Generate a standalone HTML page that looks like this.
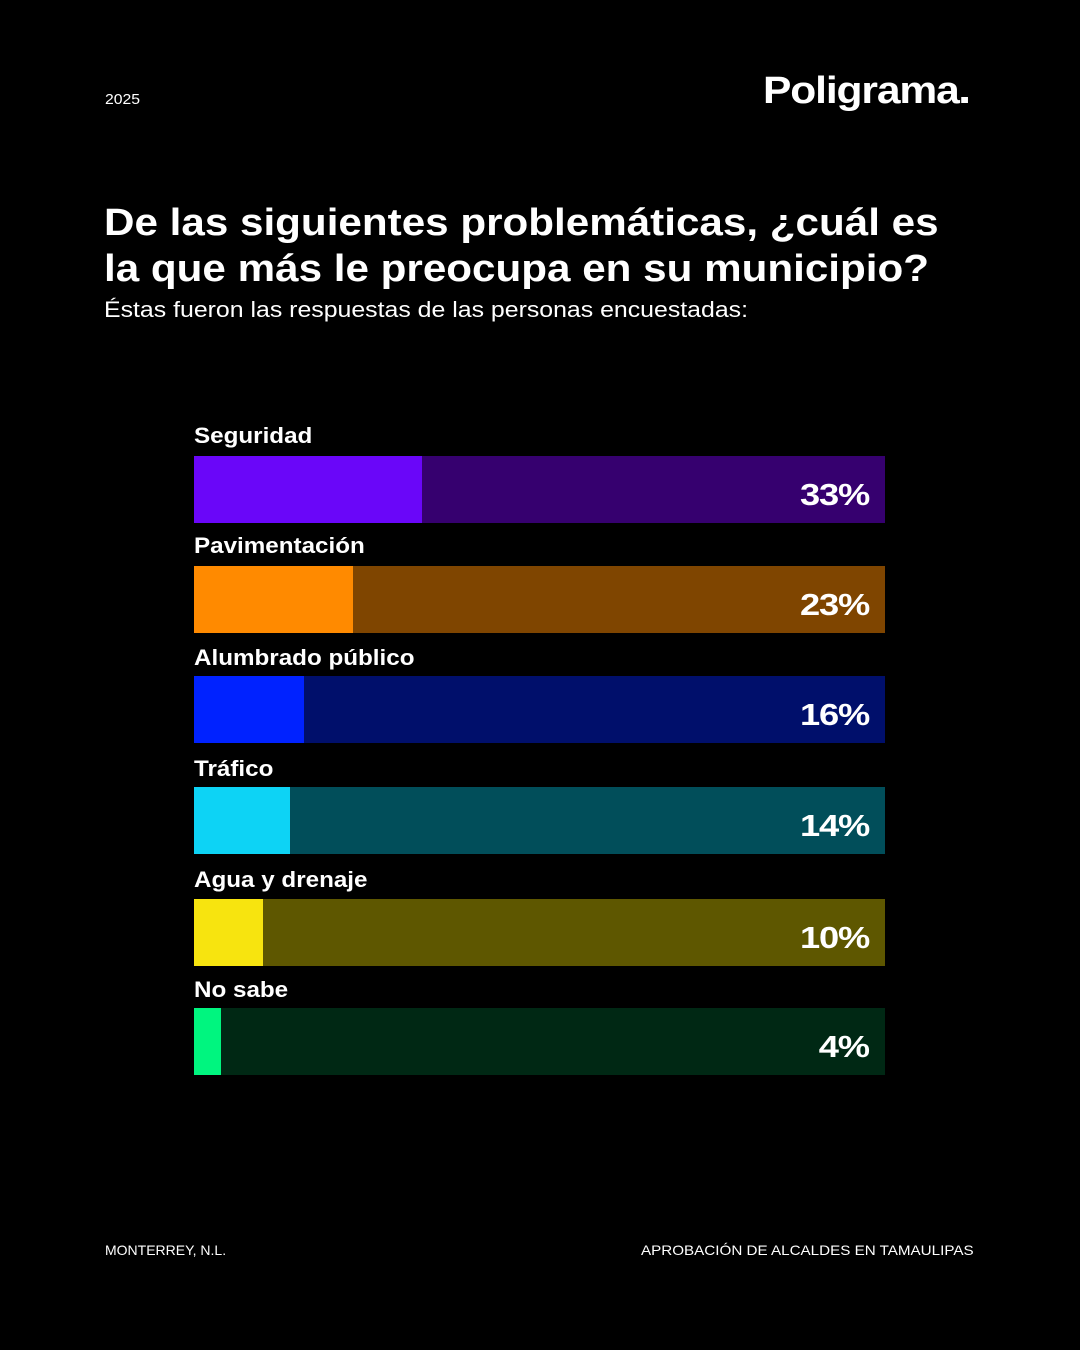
<!DOCTYPE html>
<html><head><meta charset="utf-8"><style>
html,body{margin:0;padding:0;background:#000;}
body{width:1080px;height:1350px;position:relative;overflow:hidden;font-family:"Liberation Sans",sans-serif;color:#fff;}
.a{position:absolute;white-space:nowrap;transform-origin:left top;}
.lbl{position:absolute;left:194px;font-weight:bold;font-size:22px;line-height:22px;transform:scaleX(1.1);transform-origin:left top;white-space:nowrap;}
.bar{position:absolute;left:194px;width:691px;height:67px;}
.fill{position:absolute;left:0;top:0;height:67px;}
.pct{position:absolute;right:16px;top:5px;line-height:67px;font-weight:bold;font-size:31px;letter-spacing:-1px;transform:scaleX(1.17);transform-origin:right center;}
</style></head><body>
<div class="a" style="left:105px;top:91px;font-size:15px;transform:scaleX(1.05);">2025</div>
<div class="a" style="left:763px;top:70px;font-size:38px;font-weight:bold;letter-spacing:-1px;transform:scaleX(1.12);">Poligrama<span style="display:inline-block;width:6px;height:6px;background:#fff;margin-left:2px;"></span></div>
<div class="a" style="left:104px;top:200px;font-size:38px;font-weight:bold;line-height:46px;transform:scaleX(1.11);">De las siguientes problemáticas, ¿cuál es<br>la que más le preocupa en su municipio?</div>
<div class="a" style="left:104px;top:297px;font-size:22px;transform:scaleX(1.13);">Éstas fueron las respuestas de las personas encuestadas:</div>

<div class="lbl" style="top:425px;">Seguridad</div>
<div class="bar" style="top:456px;background:#36006f;"><div class="fill" style="width:228px;background:#6a06f9;"></div><div class="pct">33%</div></div>
<div class="lbl" style="top:535px;">Pavimentación</div>
<div class="bar" style="top:566px;background:#7f4500;"><div class="fill" style="width:159px;background:#ff8a00;"></div><div class="pct">23%</div></div>
<div class="lbl" style="top:647px;">Alumbrado público</div>
<div class="bar" style="top:676px;background:#000f6b;"><div class="fill" style="width:110px;background:#0022ff;"></div><div class="pct">16%</div></div>
<div class="lbl" style="top:758px;">Tráfico</div>
<div class="bar" style="top:787px;background:#014e5a;"><div class="fill" style="width:96px;background:#0dd3f5;"></div><div class="pct">14%</div></div>
<div class="lbl" style="top:869px;">Agua y drenaje</div>
<div class="bar" style="top:899px;background:#5e5700;"><div class="fill" style="width:69px;background:#f7e40f;"></div><div class="pct">10%</div></div>
<div class="lbl" style="top:979px;">No sabe</div>
<div class="bar" style="top:1008px;background:#002814;"><div class="fill" style="width:27px;background:#00f57f;"></div><div class="pct">4%</div></div>

<div class="a" style="left:105px;top:1242px;font-size:14px;">MONTERREY, N.L.</div>
<div class="a" style="left:641px;top:1242px;font-size:14px;transform:scaleX(1.085);">APROBACIÓN DE ALCALDES EN TAMAULIPAS</div>
</body></html>
